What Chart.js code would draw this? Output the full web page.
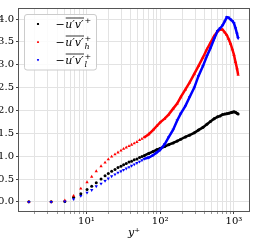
<!DOCTYPE html>
<html><head><meta charset="utf-8">
<script src="https://cdn.jsdelivr.net/npm/chart.js@4/dist/chart.umd.min.js"></script>
<style>html,body{margin:0;padding:0;background:#fff}canvas{display:block}</style>
</head><body>
<canvas id="c" width="258" height="246"></canvas>
<script>
// ---- data ----
const yPlus = [1.66, 3.33, 5.1, 6.7, 8.4, 10.2, 11.8, 13.6, 15.8, 17.9, 19.8, 22, 24.4, 26.8, 29.4, 31.9, 34.7, 37.8, 41, 44.5, 48.4, 52.5, 56.6, 60.6,
  70, 80, 90, 100, 115, 130, 150, 170, 190, 220, 250, 290, 330, 380, 430, 480, 540, 600, 650, 700, 750, 800, 850, 900, 950, 1000, 1050, 1100, 1140];
const uvTotal = [0, 0, 0.01, 0.10, 0.18, 0.27, 0.34, 0.42, 0.50, 0.57, 0.62, 0.67, 0.71, 0.75, 0.78, 0.81, 0.84, 0.87, 0.89, 0.92, 0.94, 0.97, 0.99, 1.01,
  1.06, 1.10, 1.14, 1.17, 1.21, 1.25, 1.29, 1.33, 1.37, 1.42, 1.46, 1.51, 1.57, 1.63, 1.70, 1.76, 1.82, 1.86, 1.88, 1.91, 1.92, 1.93, 1.94, 1.95, 1.96, 1.97, 1.96, 1.94, 1.92];
const uvHigh = [0, 0, 0.03, 0.13, 0.29, 0.43, 0.55, 0.67, 0.78, 0.86, 0.93, 0.99, 1.04, 1.08, 1.12, 1.16, 1.19, 1.22, 1.25, 1.28, 1.31, 1.35, 1.38, 1.41,
  1.48, 1.57, 1.66, 1.74, 1.82, 1.91, 2.04, 2.15, 2.29, 2.46, 2.61, 2.80, 2.97, 3.16, 3.34, 3.48, 3.63, 3.73, 3.77, 3.77, 3.71, 3.65, 3.56, 3.46, 3.34, 3.22, 3.06, 2.92, 2.78];
const uvLow = [0, 0, 0.01, 0.06, 0.13, 0.20, 0.26, 0.34, 0.40, 0.46, 0.51, 0.56, 0.60, 0.64, 0.67, 0.70, 0.73, 0.76, 0.79, 0.82, 0.85, 0.88, 0.91, 0.94,
  0.97, 1.02, 1.08, 1.14, 1.26, 1.41, 1.58, 1.78, 1.93, 2.10, 2.29, 2.50, 2.75, 2.97, 3.19, 3.36, 3.57, 3.74, 3.80, 3.86, 3.95, 4.04, 4.03, 3.99, 3.96, 3.91, 3.80, 3.68, 3.58];
const seriesLabels = ['−u′v′⁺', '−u′v′ₕ⁺', '−u′v′ₗ⁺'];
const labelBody = 'u′v′';
const labelSup = '+';
const labelSubs = ['', 'h', 'l'];
const xTickLabels = {10: '10¹', 100: '10²', 1000: '10³'};
const yTickValues = [0, 0.5, 1, 1.5, 2, 2.5, 3, 3.5, 4];
const xTitle = 'y⁺';

// ---- presentation ----
const lineFrom = 60; // beyond this y+ the markers merge into a solid curve
const colors = ['#000000', '#ff0000', '#0000ff'];
const styles = [
  {pointStyle: 'circle', radius: 1.5, rotation: 0, legendRadius: 1.1},
  {pointStyle: 'triangle', radius: 1.9, rotation: 0, legendRadius: 1.3},
  {pointStyle: 'triangle', radius: 1.9, rotation: 180, legendRadius: 1.3}
];
const serif = '"DejaVu Serif", serif';

function mkDataset(i, values, order) {
  return {
    label: seriesLabels[i],
    data: yPlus.map((x, k) => ({x: x, y: values[k]})),
    showLine: true,
    borderColor: colors[i],
    backgroundColor: colors[i],
    borderWidth: 2.5,
    pointStyle: styles[i].pointStyle,
    rotation: styles[i].rotation,
    pointRadius: styles[i].radius,
    pointBorderWidth: 0,
    pointHoverRadius: styles[i].radius,
    order: order,
    segment: {
      borderColor: ctx => ctx.p0.parsed.x < lineFrom ? 'rgba(0,0,0,0)' : colors[i]
    }
  };
}

function xGrid(min, max) {
  const out = [];
  for (const d of [1, 10, 100, 1000]) for (let k = 1; k <= 9; k++) { const v = k * d; if (v >= min && v <= max) out.push(v); }
  return out;
}

const legendPlugin = {
  id: 'mplLegend',
  afterDatasetsDraw(chart) {
    const ctx = chart.ctx, ca = chart.chartArea;
    const x0 = ca.left + 5.5, y0 = ca.top + 5.5, w = 72, h = 55.5, r = 2.5;
    ctx.save();
    ctx.beginPath();
    ctx.moveTo(x0 + r, y0); ctx.lineTo(x0 + w - r, y0); ctx.arcTo(x0 + w, y0, x0 + w, y0 + r, r);
    ctx.lineTo(x0 + w, y0 + h - r); ctx.arcTo(x0 + w, y0 + h, x0 + w - r, y0 + h, r);
    ctx.lineTo(x0 + r, y0 + h); ctx.arcTo(x0, y0 + h, x0, y0 + h - r, r);
    ctx.lineTo(x0, y0 + r); ctx.arcTo(x0, y0, x0 + r, y0, r); ctx.closePath();
    ctx.fillStyle = 'rgba(255,255,255,0.85)'; ctx.fill();
    ctx.strokeStyle = '#cccccc'; ctx.lineWidth = 1; ctx.stroke();
    chart.data.datasets.forEach((ds, i) => {
      const cy = y0 + 9.5 + i * 18;
      ctx.fillStyle = colors[i]; ctx.strokeStyle = colors[i];
      Chart.helpers.drawPoint(ctx, {pointStyle: styles[i].pointStyle, rotation: styles[i].rotation, radius: styles[i].legendRadius, borderWidth: 0}, x0 + 13.5, cy);
      ctx.fill();
      let tx = x0 + 31;
      const base = cy + 4;
      ctx.fillStyle = '#000'; ctx.strokeStyle = '#000';
      ctx.textAlign = 'left'; ctx.textBaseline = 'alphabetic';
      ctx.font = '11px ' + serif;
      ctx.fillText('−', tx, base); tx += ctx.measureText('−').width + 0.5;
      ctx.font = 'italic 11px ' + serif;
      const bw = ctx.measureText(labelBody).width;
      ctx.fillText(labelBody, tx, base);
      ctx.beginPath(); ctx.lineWidth = 0.8;
      ctx.moveTo(tx + 0.5, base - 10); ctx.lineTo(tx + bw + 0.5, base - 10); ctx.stroke();
      tx += bw + 1;
      ctx.font = '8px ' + serif;
      ctx.fillText(labelSup, tx, base - 5);
      if (labelSubs[i]) { ctx.font = 'italic 8px ' + serif; ctx.fillText(labelSubs[i], tx, base + 2.5); }
    });
    ctx.restore();
  }
};

const framePlugin = {
  id: 'frame',
  afterDraw(chart) {
    const ctx = chart.ctx, ca = chart.chartArea;
    ctx.save();
    ctx.strokeStyle = '#555'; ctx.lineWidth = 1;
    ctx.strokeRect(Math.round(ca.left) - 0.5, Math.round(ca.top) - 0.5, Math.round(ca.right - ca.left) + 1, Math.round(ca.bottom - ca.top) + 1);
    ctx.restore();
  }
};

const bgPlugin = {
  id: 'bg',
  beforeDraw(chart) { const c = chart.ctx; c.save(); c.fillStyle = '#fff'; c.fillRect(0, 0, chart.width, chart.height); c.restore(); }
};

new Chart(document.getElementById('c'), {
  type: 'scatter',
  data: { datasets: [mkDataset(0, uvTotal, 3), mkDataset(1, uvHigh, 2), mkDataset(2, uvLow, 1)] },
  options: {
    responsive: false, animation: false, devicePixelRatio: 1,
    layout: { padding: { top: 9, right: 9, left: 0, bottom: 0 } },
    plugins: { legend: { display: false }, tooltip: { enabled: false } },
    scales: {
      x: {
        type: 'logarithmic', min: 1.22, max: 1600,
        afterBuildTicks: s => { s.ticks = xGrid(1.22, 1600).map(v => ({value: v})); },
        afterFit: s => { s.height = 35; },
        border: { display: false },
        grid: { color: '#e3e3e3', lineWidth: 1, tickLength: 3,
          tickColor: c => (xTickLabels[c.tick && c.tick.value] ? '#444' : '#999') },
        ticks: { autoSkip: false, maxRotation: 0, padding: 1, color: '#000',
          font: { family: serif, size: 10 },
          callback: v => xTickLabels[v] || '' },
        title: { display: true, text: xTitle, color: '#000', font: { family: serif, style: 'italic', size: 11 }, padding: { top: 0, bottom: 6 } }
      },
      y: {
        min: -0.2, max: 4.22,
        afterBuildTicks: s => { s.ticks = yTickValues.map(v => ({value: v})); },
        afterFit: s => { s.width = 19; },
        border: { display: false },
        grid: { color: '#e3e3e3', lineWidth: 1, tickLength: 3, tickColor: '#444' },
        ticks: { padding: 2, color: '#000', font: { family: serif, size: 10 }, callback: v => Number(v).toFixed(1) }
      }
    }
  },
  plugins: [bgPlugin, legendPlugin, framePlugin]
});
</script>
</body></html>
